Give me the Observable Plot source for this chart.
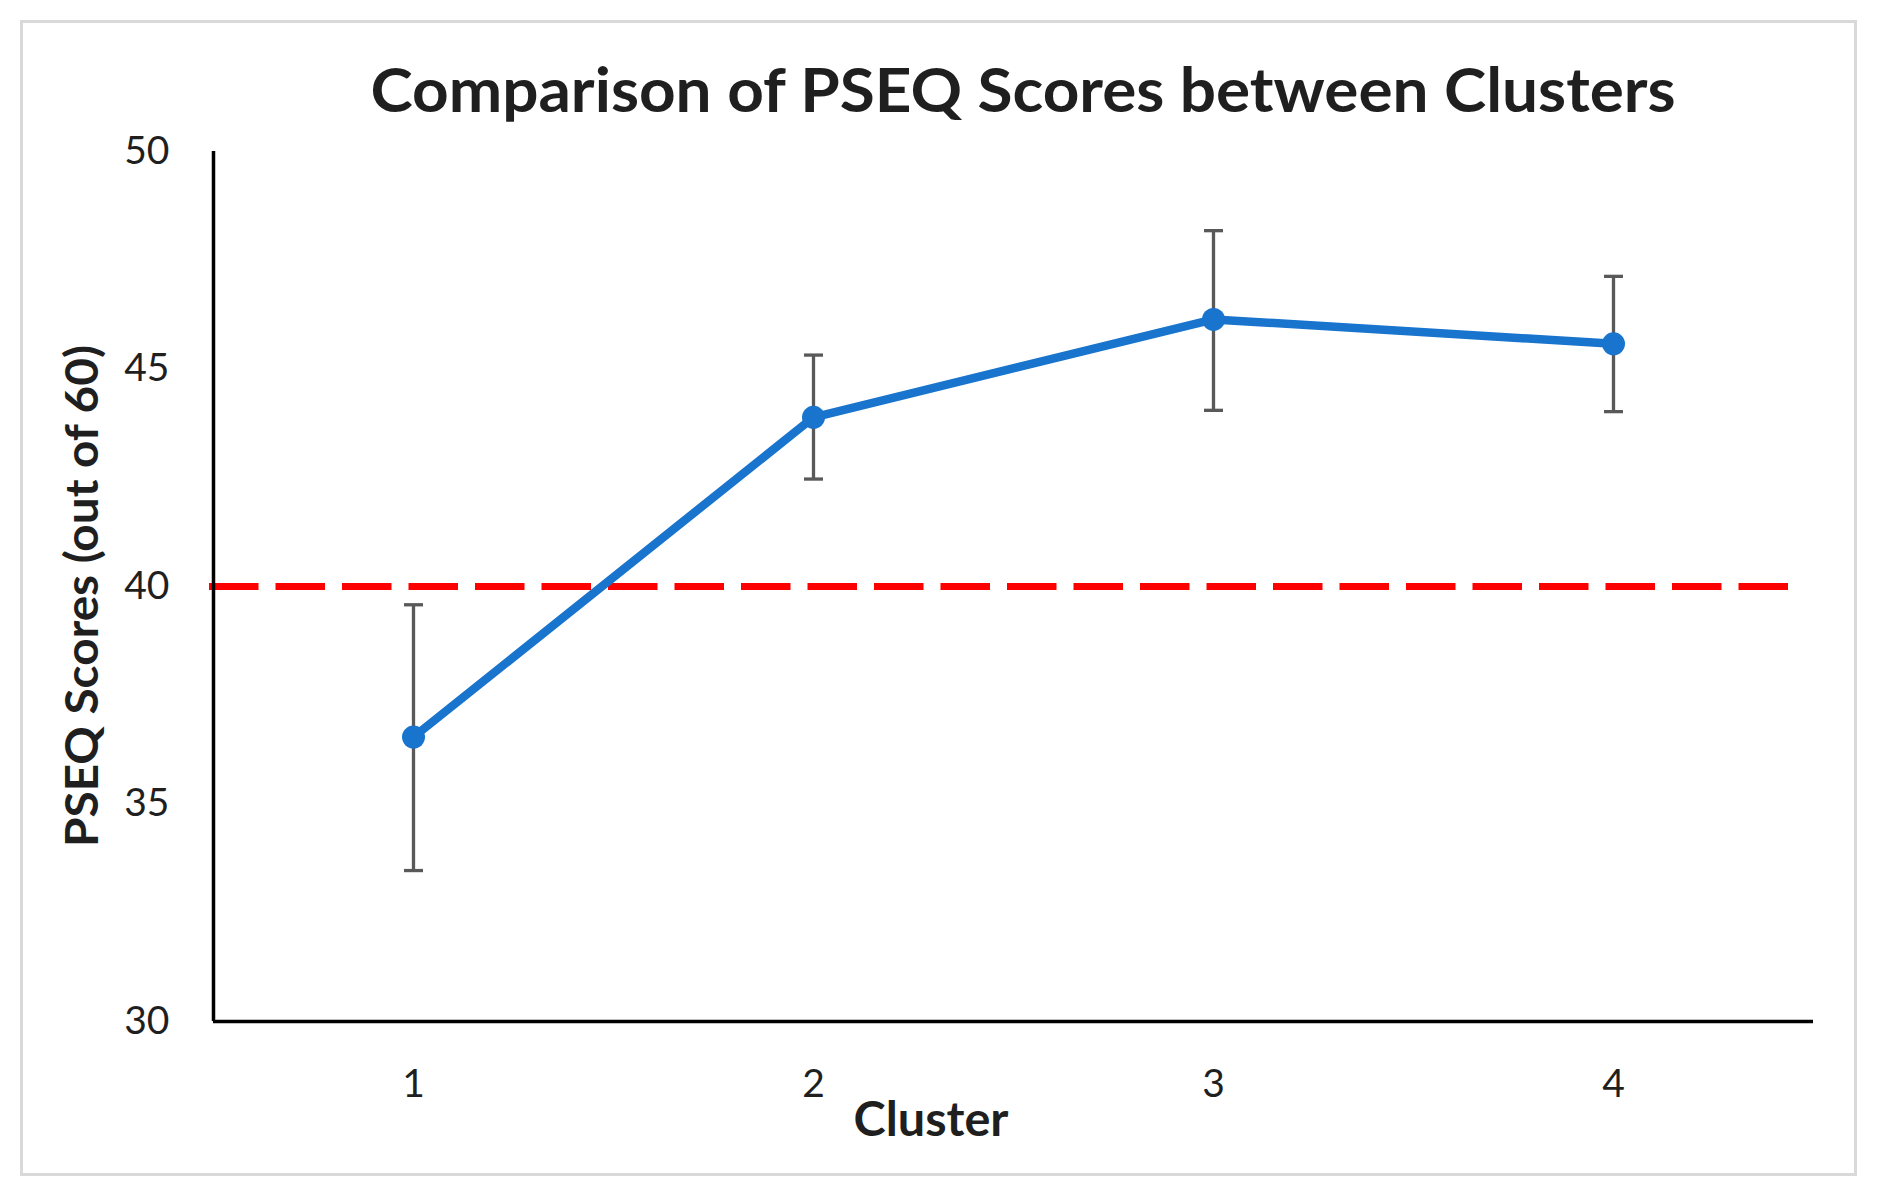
<!DOCTYPE html>
<html>
<head>
<meta charset="utf-8">
<script src="https://cdn.jsdelivr.net/npm/d3@7"></script>
<script src="https://cdn.jsdelivr.net/npm/@observablehq/plot@0.6"></script>
<style>
  html, body { margin: 0; padding: 0; background: #ffffff; }
  #wrap { position: relative; width: 1877px; height: 1201px; overflow: hidden; background: #fff; }
  #wrap > svg { position: absolute; left: 0; top: 0; }
  #border { position: absolute; left: 20px; top: 20px; width: 1837px; height: 1156px;
            border: 3px solid #d9d9d9; box-sizing: border-box; pointer-events: none; }
</style>
</head>
<body>
<div id="wrap"><div id="border"></div></div>
<script>
// ---- data ----
const clusters = [1, 2, 3, 4];
const means = [36.54, 43.89, 46.14, 45.58];
const upper = [39.58, 45.32, 48.18, 47.13];
const lower = [33.47, 42.47, 44.05, 44.02];
const yTicks = [30, 35, 40, 45, 50];
const xTicks = [1, 2, 3, 4];
const threshold = [40];
const xDomain = [0.5, 4.5];
const yDomain = [30, 50];

const titleText = "Comparison of PSEQ Scores between Clusters";
const xLabel = "Cluster";
const yLabel = "PSEQ Scores (out of 60)";

const rows = clusters.map((c, i) => ({cluster: c, mean: means[i], lo: lower[i], hi: upper[i]}));

const blue = "#1874CD";
const errGray = "#595959";
const font = "Lato, 'Open Sans', sans-serif";

// cap symbol for error bars (horizontal stroke)
const capSymbol = { draw(ctx) { ctx.moveTo(-9.5, 0); ctx.lineTo(9.5, 0); } };

const chart = Plot.plot({
  width: 1877,
  height: 1201,
  marginLeft: 213,
  marginRight: 64,
  marginTop: 151,
  marginBottom: 180,
  style: { fontFamily: font, color: "#1f1f1f", background: "transparent", overflow: "visible" },
  x: { domain: xDomain },
  y: { domain: yDomain },
  marks: [
    Plot.ruleY(threshold, { stroke: "#ff0000", strokeWidth: 7, strokeDasharray: "49.5,17", insetLeft: -4, insetRight: 24 }),
    Plot.ruleX(rows, { x: "cluster", y1: "lo", y2: "hi", stroke: errGray, strokeWidth: 3.3 }),
    Plot.dot(rows, { x: "cluster", y: "hi", symbol: capSymbol, stroke: errGray, strokeWidth: 3.3, fill: "none" }),
    Plot.dot(rows, { x: "cluster", y: "lo", symbol: capSymbol, stroke: errGray, strokeWidth: 3.3, fill: "none" }),
    Plot.line(rows, { x: "cluster", y: "mean", stroke: blue, strokeWidth: 8.5, strokeLinejoin: "round" }),
    Plot.dot(rows, { x: "cluster", y: "mean", r: 11.5, fill: blue, stroke: "none" }),
    Plot.ruleX([xDomain[0]], { stroke: "#000", strokeWidth: 3.5 }),
    Plot.ruleY([yDomain[0]], { x1: xDomain[0], x2: xDomain[1], stroke: "#000", strokeWidth: 3.5 }),
    Plot.axisY({ ticks: yTicks, tickSize: 0, tickPadding: 44, fontSize: 39, label: null, tickFormat: d => String(d) }),
    Plot.axisX({ ticks: xTicks, tickSize: 0, tickPadding: 48, fontSize: 39, label: null, tickFormat: d => String(d) })
  ]
});
document.getElementById("wrap").appendChild(chart);

// ---- overlay text: title and axis titles ----
const ov = d3.select("#wrap").append("svg")
  .attr("width", 1877).attr("height", 1201)
  .style("position", "absolute").style("left", 0).style("top", 0)
  .style("pointer-events", "none")
  .style("font-family", font);

ov.append("text")
  .attr("x", 1023).attr("y", 112)
  .attr("text-anchor", "middle")
  .attr("font-size", 61).attr("font-weight", 700).attr("fill", "#1f1f1f")
  .attr("textLength", 1305).attr("lengthAdjust", "spacingAndGlyphs")
  .text(titleText);

ov.append("text")
  .attr("x", 931).attr("y", 1136)
  .attr("text-anchor", "middle")
  .attr("font-size", 47).attr("font-weight", 700).attr("fill", "#1f1f1f")
  .attr("textLength", 155).attr("lengthAdjust", "spacingAndGlyphs")
  .text(xLabel);

ov.append("text")
  .attr("transform", "translate(98,596) rotate(-90)")
  .attr("text-anchor", "middle")
  .attr("font-size", 46).attr("font-weight", 700).attr("fill", "#1f1f1f")
  .attr("textLength", 502).attr("lengthAdjust", "spacingAndGlyphs")
  .text(yLabel);
</script>
</body>
</html>
